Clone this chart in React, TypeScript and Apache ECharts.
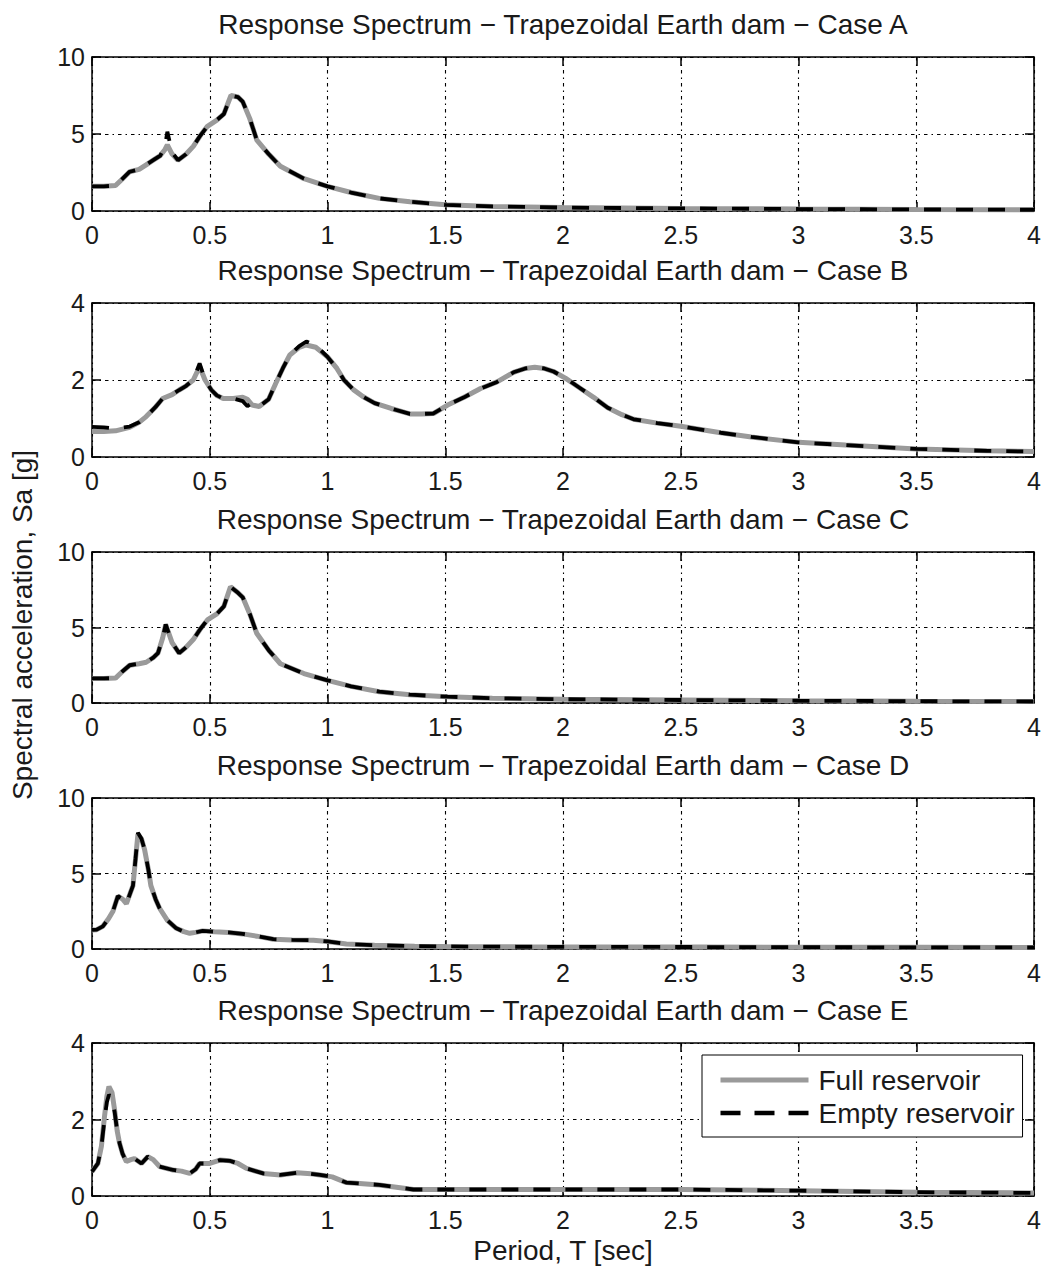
import React, { useEffect, useRef } from "react";
import * as echarts from "echarts";

// ---- Data: response spectra (period T in s, spectral acceleration Sa in g) ----
const caseLetters = ["A", "B", "C", "D", "E"];
const yMaxes = [10, 4, 10, 10, 4];
const yIntervals = [5, 2, 5, 5, 2];

const periodA = [0, 0.05, 0.1, 0.13, 0.16, 0.2, 0.23, 0.26, 0.29, 0.31, 0.32, 0.34, 0.365, 0.4, 0.43, 0.46, 0.49, 0.53, 0.56, 0.59, 0.62, 0.64, 0.67, 0.7, 0.75, 0.8, 0.9, 1.0, 1.1, 1.22, 1.35, 1.5, 1.7, 2.0, 2.5, 3.0, 3.5, 4.0];
const fullA = [1.6, 1.6, 1.65, 2.1, 2.55, 2.7, 3.0, 3.3, 3.6, 4.0, 4.3, 3.7, 3.3, 3.7, 4.2, 4.9, 5.5, 5.9, 6.3, 7.5, 7.4, 7.1, 6.0, 4.6, 3.7, 2.9, 2.1, 1.6, 1.2, 0.82, 0.6, 0.4, 0.3, 0.22, 0.17, 0.13, 0.1, 0.08];
const emptyA = [1.6, 1.6, 1.65, 2.1, 2.55, 2.7, 3.0, 3.3, 3.6, 4.2, 5.15, 3.8, 3.3, 3.7, 4.2, 4.9, 5.5, 5.9, 6.3, 7.5, 7.4, 7.1, 6.0, 4.6, 3.7, 2.9, 2.1, 1.6, 1.2, 0.82, 0.6, 0.4, 0.3, 0.22, 0.17, 0.13, 0.1, 0.08];

const periodB = [0, 0.05, 0.1, 0.16, 0.2, 0.23, 0.27, 0.3, 0.34, 0.37, 0.4, 0.43, 0.457, 0.48, 0.507, 0.53, 0.557, 0.6, 0.64, 0.66, 0.68, 0.71, 0.75, 0.78, 0.81, 0.84, 0.88, 0.91, 0.95, 1.0, 1.04, 1.07, 1.11, 1.15, 1.2, 1.27, 1.35, 1.4, 1.45, 1.51, 1.58, 1.65, 1.72, 1.79, 1.84, 1.88, 1.92, 1.96, 2.01, 2.07, 2.13, 2.19, 2.25, 2.3, 2.4, 2.5, 2.67, 2.8, 3.0, 3.2, 3.5, 3.8, 4.0];
const fullB = [0.66, 0.66, 0.68, 0.77, 0.9, 1.05, 1.3, 1.52, 1.62, 1.74, 1.85, 2.0, 2.35, 2.0, 1.74, 1.6, 1.52, 1.52, 1.55, 1.5, 1.35, 1.31, 1.5, 1.91, 2.3, 2.65, 2.85, 2.91, 2.85, 2.6, 2.3, 2.0, 1.75, 1.57, 1.4, 1.26, 1.12, 1.12, 1.13, 1.35, 1.55, 1.78, 1.95, 2.2, 2.3, 2.33, 2.3, 2.22, 2.05, 1.8, 1.55, 1.28, 1.1, 0.98, 0.88, 0.8, 0.63, 0.52, 0.38, 0.31, 0.21, 0.16, 0.14];
const emptyB = [0.78, 0.77, 0.74, 0.79, 0.9, 1.05, 1.3, 1.52, 1.62, 1.74, 1.85, 2.0, 2.43, 2.0, 1.74, 1.6, 1.52, 1.52, 1.45, 1.32, 1.4, 1.31, 1.5, 1.91, 2.3, 2.65, 2.88, 3.0, 2.9, 2.6, 2.3, 2.0, 1.75, 1.57, 1.4, 1.26, 1.12, 1.12, 1.13, 1.35, 1.55, 1.78, 1.95, 2.2, 2.3, 2.33, 2.3, 2.22, 2.05, 1.8, 1.55, 1.28, 1.1, 0.98, 0.88, 0.8, 0.63, 0.52, 0.38, 0.31, 0.21, 0.16, 0.14];

const periodC = [0, 0.05, 0.1, 0.13, 0.16, 0.2, 0.23, 0.26, 0.28, 0.3, 0.313, 0.34, 0.37, 0.4, 0.43, 0.46, 0.49, 0.53, 0.56, 0.588, 0.62, 0.64, 0.67, 0.7, 0.75, 0.8, 0.9, 1.0, 1.1, 1.22, 1.35, 1.51, 1.7, 2.0, 2.5, 3.0, 3.5, 4.0];
const fullC = [1.63, 1.63, 1.65, 2.1, 2.5, 2.6, 2.7, 3.0, 3.3, 4.3, 5.2, 4.0, 3.3, 3.7, 4.2, 4.9, 5.5, 5.9, 6.4, 7.7, 7.3, 7.0, 5.9, 4.6, 3.5, 2.6, 1.95, 1.5, 1.1, 0.75, 0.55, 0.42, 0.32, 0.25, 0.2, 0.15, 0.12, 0.1];
const emptyC = [1.63, 1.63, 1.65, 2.1, 2.5, 2.6, 2.7, 3.0, 3.3, 4.3, 5.2, 4.0, 3.3, 3.7, 4.2, 4.9, 5.5, 5.9, 6.4, 7.7, 7.3, 7.0, 5.9, 4.6, 3.5, 2.6, 1.95, 1.5, 1.1, 0.75, 0.55, 0.42, 0.32, 0.25, 0.2, 0.15, 0.12, 0.1];

const periodD = [0, 0.02, 0.046, 0.07, 0.089, 0.11, 0.13, 0.146, 0.16, 0.174, 0.185, 0.195, 0.21, 0.223, 0.24, 0.25, 0.27, 0.287, 0.32, 0.358, 0.39, 0.415, 0.44, 0.47, 0.52, 0.58, 0.64, 0.7, 0.77, 0.85, 0.94, 1.0, 1.08, 1.2, 1.37, 1.5, 1.8, 2.2, 2.6, 3.0, 3.5, 4.0];
const fullD = [1.26, 1.28, 1.5, 2.0, 2.5, 3.5, 3.3, 3.0, 3.6, 4.2, 6.0, 7.6, 7.3, 6.6, 5.2, 4.2, 3.3, 2.7, 1.9, 1.37, 1.15, 1.04, 1.1, 1.2, 1.15, 1.1, 1.0, 0.85, 0.65, 0.6, 0.58, 0.5, 0.33, 0.25, 0.19, 0.17, 0.15, 0.14, 0.13, 0.12, 0.11, 0.1];
const emptyD = [1.26, 1.28, 1.5, 2.0, 2.5, 3.5, 3.3, 3.0, 3.6, 4.2, 6.0, 7.7, 7.3, 6.6, 5.2, 4.2, 3.3, 2.7, 1.9, 1.37, 1.15, 1.04, 1.1, 1.2, 1.15, 1.1, 1.0, 0.85, 0.65, 0.6, 0.58, 0.5, 0.33, 0.25, 0.19, 0.17, 0.15, 0.14, 0.13, 0.12, 0.11, 0.1];

const periodE = [0, 0.025, 0.04, 0.053, 0.063, 0.072, 0.085, 0.096, 0.107, 0.117, 0.13, 0.146, 0.165, 0.18, 0.21, 0.237, 0.26, 0.287, 0.344, 0.38, 0.415, 0.44, 0.457, 0.5, 0.543, 0.585, 0.62, 0.656, 0.727, 0.8, 0.87, 0.93, 0.968, 1.02, 1.08, 1.22, 1.365, 1.5, 1.65, 2.0, 2.5, 3.0, 3.5, 4.0];
const fullE = [0.64, 0.85, 1.3, 2.07, 2.6, 2.86, 2.7, 2.25, 1.7, 1.38, 1.1, 0.9, 0.95, 0.98, 0.85, 1.03, 0.95, 0.77, 0.68, 0.65, 0.59, 0.7, 0.85, 0.85, 0.94, 0.92, 0.85, 0.72, 0.59, 0.55, 0.61, 0.58, 0.55, 0.5, 0.35, 0.29, 0.17, 0.17, 0.17, 0.17, 0.17, 0.14, 0.1, 0.08];
const emptyE = [0.64, 0.85, 1.3, 2.0, 2.45, 2.65, 2.55, 2.2, 1.7, 1.38, 1.1, 0.9, 0.95, 0.98, 0.85, 1.03, 0.95, 0.77, 0.68, 0.65, 0.59, 0.7, 0.85, 0.85, 0.94, 0.92, 0.85, 0.72, 0.59, 0.55, 0.61, 0.58, 0.55, 0.5, 0.35, 0.29, 0.17, 0.17, 0.17, 0.17, 0.17, 0.14, 0.1, 0.08];

const periods = [periodA, periodB, periodC, periodD, periodE];
const fullSeries = [fullA, fullB, fullC, fullD, fullE];
const emptySeries = [emptyA, emptyB, emptyC, emptyD, emptyE];

const FULL_NAME = "Full reservoir";
const EMPTY_NAME = "Empty reservoir";
const X_NAME = "Period, T [sec]";
const Y_NAME = "Spectral acceleration, Sa [g]";

// ---- Layout ----
const W = 1046;
const H = 1271;
const GRID_LEFT = 92;
const GRID_WIDTH = 942;
const gridTops = [57, 303, 552, 798, 1043];
const gridHeights = [154, 154, 151, 151, 153];
const titleYs = [24, 270, 519, 765, 1010];

const FONT = "'Liberation Sans', Arial, Helvetica, sans-serif";
const TEXT_COLOR = "#1a1a1a";
const FULL_COLOR = "#9a9a9a";
const FULL_WIDTH = 5;
const EMPTY_WIDTH = 3.8;
const EMPTY_DASH = [17, 15];

function buildOption() {
  const axisLine = { color: "#000", width: 1.5 };
  const gridLine = { color: "#000", width: 1.1, type: [3.5, 4, 1.5, 4] as number[] };
  const tickLabel = { fontFamily: FONT, fontSize: 25, color: TEXT_COLOR };

  const grid: any[] = [];
  const xAxis: any[] = [];
  const yAxis: any[] = [];
  const series: any[] = [];
  const graphic: any[] = [];

  caseLetters.forEach((letter, i) => {
    grid.push({ left: GRID_LEFT, top: gridTops[i], width: GRID_WIDTH, height: gridHeights[i] });

    xAxis.push({
      type: "value", gridIndex: i, min: 0, max: 4, interval: 0.5, position: "bottom",
      axisLine: { show: true, onZero: false, lineStyle: axisLine },
      axisTick: { show: true, inside: true, length: 9, lineStyle: axisLine },
      axisLabel: { ...tickLabel, margin: 11 },
      splitLine: { show: true, lineStyle: gridLine },
    });
    xAxis.push({
      type: "value", gridIndex: i, min: 0, max: 4, interval: 0.5, position: "top",
      axisLine: { show: true, onZero: false, lineStyle: axisLine },
      axisTick: { show: true, inside: true, length: 9, lineStyle: axisLine },
      axisLabel: { show: false },
      splitLine: { show: false },
    });
    yAxis.push({
      type: "value", gridIndex: i, min: 0, max: yMaxes[i], interval: yIntervals[i], position: "left",
      axisLine: { show: true, onZero: false, lineStyle: axisLine },
      axisTick: { show: true, inside: true, length: 9, lineStyle: axisLine },
      axisLabel: { ...tickLabel, margin: 7 },
      splitLine: { show: true, lineStyle: gridLine },
    });
    yAxis.push({
      type: "value", gridIndex: i, min: 0, max: yMaxes[i], interval: yIntervals[i], position: "right",
      axisLine: { show: true, onZero: false, lineStyle: axisLine },
      axisTick: { show: true, inside: true, length: 9, lineStyle: axisLine },
      axisLabel: { show: false },
      splitLine: { show: false },
    });

    const t = periods[i];
    series.push({
      name: FULL_NAME, type: "line", xAxisIndex: 2 * i, yAxisIndex: 2 * i,
      data: t.map((p, k) => [p, fullSeries[i][k]]),
      symbol: "none", showSymbol: false, smooth: false, z: 2,
      lineStyle: { color: FULL_COLOR, width: FULL_WIDTH },
      itemStyle: { color: FULL_COLOR },
    });
    series.push({
      name: EMPTY_NAME, type: "line", xAxisIndex: 2 * i, yAxisIndex: 2 * i,
      data: t.map((p, k) => [p, emptySeries[i][k]]),
      symbol: "none", showSymbol: false, smooth: false, z: 3,
      lineStyle: { color: "#000", width: EMPTY_WIDTH, type: EMPTY_DASH },
      itemStyle: { color: "#000" },
    });

    graphic.push({
      type: "text", x: GRID_LEFT + GRID_WIDTH / 2, y: titleYs[i],
      style: {
        text: `Response Spectrum \u2212 Trapezoidal Earth dam \u2212 Case ${letter}`,
        fill: TEXT_COLOR, font: `28px ${FONT}`,
        align: "center", verticalAlign: "middle",
        textAlign: "center", textVerticalAlign: "middle",
      },
    });
  });

  graphic.push({
    type: "text", x: GRID_LEFT + GRID_WIDTH / 2, y: 1250,
    style: {
      text: X_NAME, fill: TEXT_COLOR, font: `28px ${FONT}`,
      align: "center", verticalAlign: "middle", textAlign: "center", textVerticalAlign: "middle",
    },
  });
  graphic.push({
    type: "text", x: 22, y: 625, rotation: Math.PI / 2,
    style: {
      text: Y_NAME, fill: TEXT_COLOR, font: `28px ${FONT}`,
      align: "center", verticalAlign: "middle", textAlign: "center", textVerticalAlign: "middle",
    },
  });

  return {
    animation: false,
    backgroundColor: "#fff",
    grid, xAxis, yAxis, series, graphic,
    legend: {
      data: [
        { name: FULL_NAME, lineStyle: { width: FULL_WIDTH, color: FULL_COLOR, type: "solid" } },
        { name: EMPTY_NAME, lineStyle: { width: 4.5, color: "#000", type: [20, 14] } },
      ],
      orient: "vertical",
      left: 702, top: 1055,
      itemWidth: 88, itemHeight: 22, itemGap: 5,
      padding: [11, 8, 10, 16],
      borderColor: "#000", borderWidth: 1, borderRadius: 0,
      backgroundColor: "#fff",
      selectedMode: false,
      itemStyle: { opacity: 0 },
      textStyle: { fontFamily: FONT, fontSize: 28, color: TEXT_COLOR, padding: [0, 0, 0, 5] },
    },
  };
}

export default function App() {
  const ref = useRef<HTMLDivElement>(null);
  useEffect(() => {
    if (!ref.current) return;
    const chart = echarts.init(ref.current, undefined, { renderer: "svg" });
    chart.setOption(buildOption() as any);
    return () => chart.dispose();
  }, []);
  return (
    <div
      ref={ref}
      style={{ position: "fixed", left: 0, top: 0, width: W, height: H, background: "#fff" }}
    />
  );
}
